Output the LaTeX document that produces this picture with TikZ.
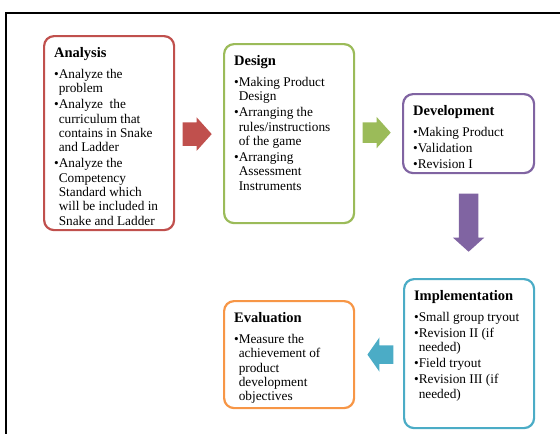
\documentclass[tikz,border=0pt]{standalone}
\usepackage{fontspec}
\setmainfont{Liberation Serif}
\usetikzlibrary{shapes.arrows,calc}

\definecolor{anared}{HTML}{C0504D}
\definecolor{desgreen}{HTML}{9BBB59}
\definecolor{devpurple}{HTML}{8064A2}
\definecolor{impblue}{HTML}{4BACC6}
\definecolor{evalorange}{HTML}{F79646}

% text inside the stage boxes
\newlength{\bulwd}
\newcommand{\stagehead}[1]{{\fontsize{14.5pt}{14.5pt}\selectfont\bfseries #1\par}\vspace{5pt}}
\newcommand{\stageitem}[1]{\settowidth{\bulwd}{\textbullet}\hangindent=\bulwd\hangafter=1\noindent\textbullet#1\par}
\newcommand{\stagebody}[3]{\parbox[c][#1][t]{#2}{\rightskip=0pt plus 1fil\fontsize{13.3pt}{14.3pt}\selectfont\parskip=1.7pt #3}}

\begin{document}
\begin{tikzpicture}[x=1pt, y=-1pt,
    stage/.style={draw=#1, line width=2.2pt, rounded corners=10pt, fill=white, anchor=north west, inner xsep=10pt, inner ysep=11.5pt},
    flow/.style={single arrow, draw=none, fill=#1, inner sep=0pt, anchor=tip, single arrow tip angle=96}]

  \useasboundingbox (0,0) rectangle (560,434);

  % outer frame
  \draw[line width=1.6pt] (6,445) -- (6,13) -- (570,13);

  % stages
  \node[stage=anared] (analysis) at (43,35) {\stagebody{171pt}{110pt}{%
    \stagehead{Analysis}
    \stageitem{Analyze the\\problem}
    \stageitem{Analyze~ the\\curriculum that\\contains in Snake\\and Ladder}
    \stageitem{Analyze the\\Competency\\Standard which\\will be included in\\Snake and Ladder}}};

  \node[stage=desgreen] (design) at (223,43) {\stagebody{156pt}{110pt}{%
    \stagehead{Design}
    \stageitem{Making Product\\Design}
    \stageitem{Arranging the\\rules/instructions\\of the game}
    \stageitem{Arranging\\Assessment\\Instruments}}};

  \node[stage=devpurple] (development) at (402,93) {\stagebody{56pt}{111pt}{%
    \stagehead{Development}
    \stageitem{Making Product}
    \stageitem{Validation}
    \stageitem{Revision I}}};

  \node[stage=impblue] (implementation) at (403,278) {\stagebody{126pt}{110pt}{%
    \stagehead{Implementation}
    \stageitem{Small group tryout}
    \stageitem{Revision II (if\\needed)}
    \stageitem{Field tryout}
    \stageitem{Revision III (if\\needed)}}};

  \node[stage=evalorange] (evaluation) at (223,300) {\stagebody{84pt}{110pt}{%
    \stagehead{Evaluation}
    \stageitem{Measure the\\achievement of\\product\\development\\objectives}}};

  % block arrows between the stages
  \node[flow=anared, minimum height=29pt, inner ysep=11.5pt, single arrow head extend=5pt]
    (toDesign) at ($(design.west)+(-11,0.5)$) {};
  \node[flow=desgreen, minimum height=28pt, inner ysep=10pt, single arrow head extend=5.5pt]
    (toDevelopment) at ($(development.west)+(-11,-1)$) {};
  \node[flow=devpurple, minimum height=58pt, inner xsep=9.5pt, single arrow head extend=6pt, shape border rotate=270]
    (toImplementation) at ($(implementation.north)+(-0.5,-26)$) {};
  \node[flow=impblue, minimum height=26pt, inner ysep=9pt, single arrow head extend=8pt, single arrow tip angle=110, shape border rotate=180]
    (toEvaluation) at ($(evaluation.east)+(12,0)$) {};

\end{tikzpicture}
\end{document}
